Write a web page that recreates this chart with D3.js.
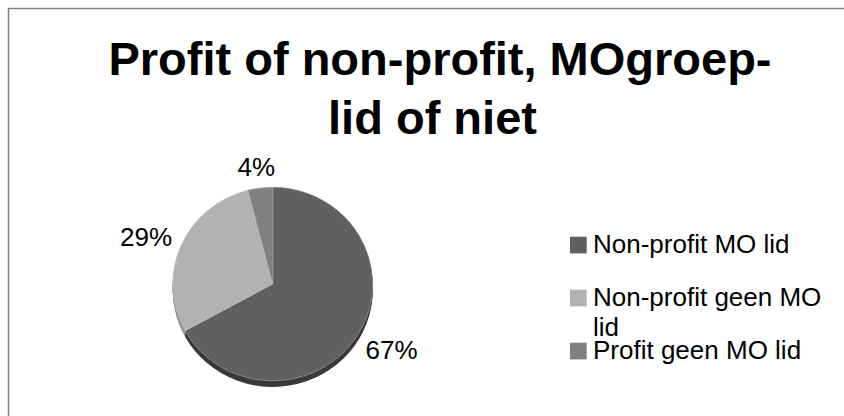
<!DOCTYPE html>
<html>
<head>
<meta charset="utf-8">
<script src="https://cdn.jsdelivr.net/npm/d3@7"></script>
<style>
  body { margin: 0; background: #fff; }
  text { font-family: "Liberation Sans", Arial, sans-serif; fill: #000; }
</style>
</head>
<body>
<script>
var categories = ["Non-profit MO lid", "Non-profit geen MO lid", "Profit geen MO lid"];
var values = [67, 29, 4];
var pctLabels = ["67%", "29%", "4%"];
var titleLines = ["Profit of non-profit, MOgroep-", "lid of niet"];

var topColors = ["#606060", "#b2b2b2", "#808080"],
    sideColors = ["#3a3a3a", "#8e8e8e", "#5a5a5a"];

var width = 844, height = 416;
var cx = 272.7, cy = 284, rx = 100, ry = 97, depth = 6;

var svg = d3.select("body").append("svg")
    .attr("width", width)
    .attr("height", height);

// chart frame (runs off the right and bottom)
svg.append("rect")
    .attr("x", 8.5).attr("y", 8.5)
    .attr("width", 900).attr("height", 500)
    .attr("fill", "none")
    .attr("stroke", "#808080")
    .attr("stroke-width", 1.5);

// title
svg.append("text")
    .attr("x", 440).attr("y", 75)
    .attr("text-anchor", "middle")
    .style("font-size", "47px").style("font-weight", "bold")
    .text(titleLines[0]);
svg.append("text")
    .attr("x", 432.5).attr("y", 134)
    .attr("text-anchor", "middle")
    .style("font-size", "47px").style("font-weight", "bold")
    .text(titleLines[1]);

var data = categories.map(function(c, i) { return {name: c, value: values[i], label: pctLabels[i], i: i}; });

var pie = d3.pie()
    .sort(null)
    .value(function(d) { return d.value; });

var arcs = pie(data);

var arc = d3.arc()
    .innerRadius(0)
    .outerRadius(rx);

// extruded side, stacked copies
for (var k = depth; k >= 1; k--) {
  svg.append("g")
      .attr("transform", "translate(" + cx + "," + (cy + k) + ") scale(1," + (ry / rx) + ")")
    .selectAll("path")
    .data(arcs)
    .enter().append("path")
      .attr("d", arc)
      .attr("fill", function(d) { return sideColors[d.data.i]; });
}

// top face
svg.append("g")
    .attr("transform", "translate(" + cx + "," + cy + ") scale(1," + (ry / rx) + ")")
  .selectAll("path")
  .data(arcs)
  .enter().append("path")
    .attr("d", arc)
    .attr("fill", function(d) { return topColors[d.data.i]; })
    .attr("stroke", "#d0d0d0")
    .attr("stroke-width", 0.4);

// data labels outside the pie
var labelR = 112;
svg.append("g").selectAll("text")
  .data(arcs)
  .enter().append("text")
    .style("font-size", "26px")
    .attr("text-anchor", "middle")
    .text(function(d) { return d.data.label; })
    .each(function(d) {
      var a = (d.startAngle + d.endAngle) / 2,
          dx = Math.sin(a), dy = -Math.cos(a),
          w = this.getComputedTextLength(), h = 18;
      var x = cx + dx * labelR + dx * w / 2,
          y = cy + dy * labelR * (ry / rx) + dy * h / 2 + (dy > 0 ? depth : 0);
      d3.select(this).attr("x", x).attr("y", y + h / 2);
    });

// legend
var legendY = d3.scalePoint()
    .domain(categories)
    .range([245, 351]);

var legend = svg.append("g").selectAll("g")
  .data(data)
  .enter().append("g")
    .attr("transform", function(d) { return "translate(570," + legendY(d.name) + ")"; });

legend.append("rect")
    .attr("x", 0).attr("y", -8.3)
    .attr("width", 16.7).attr("height", 16.7)
    .attr("fill", function(d) { return topColors[d.i]; });

legend.append("text")
    .attr("x", 23).attr("y", 8.3)
    .style("font-size", "26px")
    .each(function(d) {
      var t = d3.select(this), words = d.name.split(" "), line = [],
          tspan = t.append("tspan").attr("x", 23), lineNo = 0;
      words.forEach(function(w) {
        line.push(w);
        tspan.text(line.join(" "));
        if (tspan.node().getComputedTextLength() > 240 && line.length > 1) {
          line.pop();
          tspan.text(line.join(" "));
          line = [w];
          lineNo++;
          tspan = t.append("tspan").attr("x", 23).attr("dy", 30).text(w);
        }
      });
    });
</script>
</body>
</html>
